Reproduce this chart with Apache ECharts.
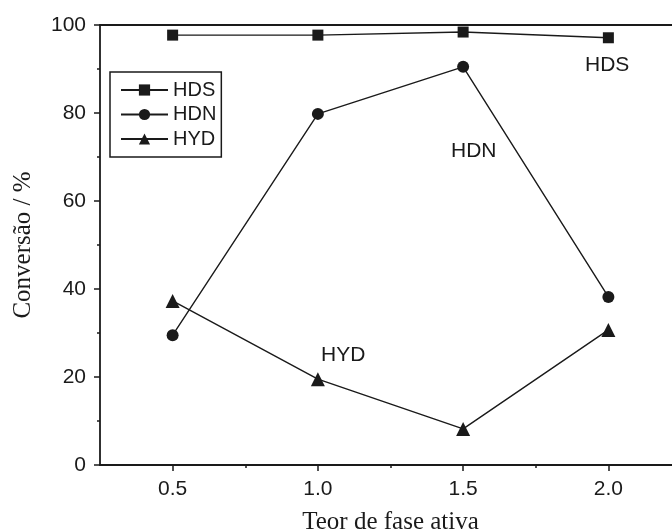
<!DOCTYPE html>
<html><head><meta charset="utf-8">
<script src="https://cdn.jsdelivr.net/npm/echarts@6/dist/echarts.min.js"></script>
<style>html,body{margin:0;padding:0;background:#fff}#c{width:672px;height:531px}</style>
</head><body><div id="c"></div>
<script>
const xValues = [0.5, 1.0, 1.5, 2.0];
const hds = [97.7, 97.7, 98.4, 97.1];
const hdn = [29.5, 79.8, 90.5, 38.2];
const hyd = [37.3, 19.5, 8.2, 30.7];
const xMajorTicks = [0.5, 1.0, 1.5, 2.0];
const xMinorTicks = [0.75, 1.25, 1.75];
const seriesNames = ['HDS', 'HDN', 'HYD'];

const chart = echarts.init(document.getElementById('c'), null, {renderer: 'canvas'});
const sans = 'Liberation Sans, Arial, sans-serif';
const serif = 'Liberation Serif, Times New Roman, serif';
const ink = '#1a1a1a';
function pts(ys){ return xValues.map((x,i)=>[x, ys[i]]); }
const lineStyle = {color: ink, width: 1.4};
chart.setOption({
  animation: false,
  backgroundColor: '#fff',
  grid: {left: 100, top: 25, width: 581, height: 440, containLabel: false, outerBoundsMode: 'none'},
  legend: {
    left: 110, top: 72, orient: 'vertical',
    data: seriesNames,
    itemWidth: 47, itemHeight: 14, itemGap: 4.5,
    padding: [8, 5, 8, 10],
    borderColor: ink, borderWidth: 1.5,
    textStyle: {fontFamily: sans, fontSize: 20, color: ink, padding: [0,0,0,0]}
  },
  xAxis: [{
    type: 'value', min: 0.25, max: 2.25, position: 'bottom',
    name: 'Teor de fase ativa', nameLocation: 'middle', nameGap: 45,
    nameTextStyle: {fontFamily: serif, fontSize: 25, color: ink},
    axisLine: {lineStyle: {color: ink, width: 1.8}},
    axisTick: {inside: false, length: 6, customValues: xMajorTicks, lineStyle: {color: ink, width: 1.5}},
    axisLabel: {customValues: xMajorTicks, margin: 14, fontFamily: sans, fontSize: 21, color: ink,
      formatter: v => v.toFixed(1)},
    splitLine: {show: false}
  }, {
    type: 'value', min: 0.25, max: 2.25, position: 'bottom',
    axisLine: {show: false},
    axisTick: {inside: false, length: 3, customValues: xMinorTicks, lineStyle: {color: ink, width: 1.5}},
    axisLabel: {show: false}, splitLine: {show: false}
  }, {
    type: 'value', min: 0.25, max: 2.25, position: 'top',
    axisLine: {lineStyle: {color: ink, width: 1.8}},
    axisTick: {show: false}, axisLabel: {show: false}, splitLine: {show: false}
  }],
  yAxis: {
    type: 'value', min: 0, max: 100, interval: 20,
    name: 'Conversão / %', nameLocation: 'middle', nameGap: 64,
    nameTextStyle: {fontFamily: serif, fontSize: 25, color: ink},
    axisLine: {lineStyle: {color: ink, width: 1.8}},
    axisTick: {inside: false, length: 6, lineStyle: {color: ink, width: 1.5}},
    minorTick: {show: true, splitNumber: 2, length: 3, lineStyle: {color: ink, width: 1.5}},
    axisLabel: {margin: 14, fontFamily: sans, fontSize: 21, color: ink},
    splitLine: {show: false}
  },
  graphic: [
    {type: 'text', left: 585, top: 55, style: {text: 'HDS', font: '21px Liberation Sans, Arial', fill: ink}},
    {type: 'text', left: 451, top: 141, style: {text: 'HDN', font: '21px Liberation Sans, Arial', fill: ink}},
    {type: 'text', left: 321, top: 345, style: {text: 'HYD', font: '21px Liberation Sans, Arial', fill: ink}}
  ],
  series: [
    {name: 'HDS', type: 'line', data: pts(hds), symbol: 'rect', symbolSize: 11,
      lineStyle, itemStyle: {color: ink}},
    {name: 'HDN', type: 'line', data: pts(hdn), symbol: 'circle', symbolSize: 12,
      lineStyle, itemStyle: {color: ink}},
    {name: 'HYD', type: 'line', data: pts(hyd), symbol: 'triangle', symbolSize: 14,
      lineStyle, itemStyle: {color: ink}}
  ]
});
</script></body></html>
